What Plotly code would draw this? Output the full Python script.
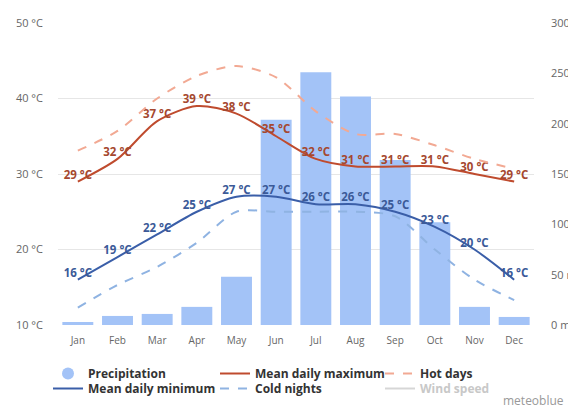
import plotly.graph_objects as go

months = ["Jan", "Feb", "Mar", "Apr", "May", "Jun", "Jul", "Aug", "Sep", "Oct", "Nov", "Dec"]
precipitation = [3, 9, 11, 18, 48, 204, 251, 227, 164, 102, 18, 8]
mean_max = [29, 32, 37, 39, 38, 35, 32, 31, 31, 31, 30, 29]
mean_min = [16, 19, 22, 25, 27, 27, 26, 26, 25, 23, 20, 16]
hot_days = [33.1, 35.7, 40.0, 43.0, 44.3, 42.8, 38.3, 35.3, 35.3, 33.8, 32.0, 30.7]
cold_nights = [12.3, 15.3, 17.7, 20.9, 25.0, 25.0, 25.0, 25.0, 24.4, 20.0, 16.0, 13.3]
left_ticks = [10, 20, 30, 40, 50]
right_ticks = [0, 50, 100, 150, 200, 250, 300]

max_labels = [f"{v} °C" for v in mean_max]
min_labels = [f"{v} °C" for v in mean_min]

label_font = dict(size=11.5, family="Open Sans", weight="bold")

fig = go.Figure()

# bars on primary axis (drawn below the overlaying temperature axis)
fig.add_trace(go.Bar(
    x=months, y=precipitation, yaxis="y", name="Precipitation",
    marker=dict(color="#a3c3f7", line=dict(width=0)), showlegend=False,
))
fig.add_trace(go.Scatter(
    x=[None], y=[None], yaxis="y2", mode="markers", name="Precipitation",
    marker=dict(symbol="circle", size=12, color="#a3c3f7"), legend="legend",
))
fig.add_trace(go.Scatter(
    x=months, y=mean_max, yaxis="y2", mode="lines+text", name="Mean daily maximum",
    line=dict(color="#bf4b2e", width=2, shape="spline", smoothing=0.8),
    text=max_labels, textposition="top center",
    textfont=dict(color="#a5482f", **label_font), legend="legend2",
))
fig.add_trace(go.Scatter(
    x=months, y=hot_days, yaxis="y2", mode="lines", name="Hot days",
    line=dict(color="#f2a993", width=2, dash="dash", shape="spline", smoothing=0.8),
    legend="legend3",
))
fig.add_trace(go.Scatter(
    x=months, y=mean_min, yaxis="y2", mode="lines+text", name="Mean daily minimum",
    line=dict(color="#3a5ea8", width=2, shape="spline", smoothing=0.8),
    text=min_labels, textposition="top center",
    textfont=dict(color="#3b5a98", **label_font), legend="legend4",
))
fig.add_trace(go.Scatter(
    x=months, y=cold_nights, yaxis="y2", mode="lines", name="Cold nights",
    line=dict(color="#8fb3e2", width=2, dash="dash", shape="spline", smoothing=0.8),
    legend="legend5",
))
fig.add_trace(go.Scatter(
    x=[None], y=[None], yaxis="y2", mode="lines",
    name="<span style='color:#c8c8c8'>Wind speed</span>",
    line=dict(color="#d6d6d6", width=2), legend="legend6",
))

PLOT_L, PLOT_W, PLOT_B, PLOT_H = 58, 476, 325, 302


def legend_at(text_x, row_y):
    # text_x: pixel where the legend text starts; row_y: pixel of row centre
    return dict(
        orientation="h", xanchor="left", yanchor="top",
        x=(text_x - 40 - PLOT_L) / PLOT_W,
        y=(PLOT_B - (row_y - 14)) / PLOT_H,
        font=dict(family="Open Sans", size=12, color="#333333", weight="bold"),
        itemwidth=30, tracegroupgap=0, bgcolor="rgba(0,0,0,0)",
    )


fig.update_layout(
    template="none",
    width=568, height=408,
    margin=dict(l=58, r=34, t=23, b=83, autoexpand=False),
    paper_bgcolor="white", plot_bgcolor="white",
    bargap=0.22,
    font=dict(family="Open Sans", color="#666666", size=10),
    xaxis=dict(
        categoryorder="array", categoryarray=months,
        showgrid=False, showline=False, ticks="", automargin=False,
        tickfont=dict(size=10, color="#666666"), ticklabelstandoff=8,
        range=[-0.5, 11.5],
    ),
    yaxis=dict(
        range=[0, 300], tickvals=right_ticks,
        ticktext=[f"{v} mm" for v in right_ticks],
        side="right", showgrid=False, zeroline=False, automargin=False,
        showline=False, ticks="", ticklabelstandoff=16,
        tickfont=dict(size=11, color="#666666"),
    ),
    yaxis2=dict(
        range=[10, 50], tickvals=left_ticks,
        ticktext=[f"{v} °C" for v in left_ticks],
        overlaying="y", side="left", automargin=False,
        showgrid=True, gridcolor="#e6e6e6", gridwidth=1,
        zeroline=False, showline=False, ticks="", ticklabelstandoff=14,
        tickfont=dict(size=11, color="#666666"),
    ),
    legend=legend_at(88, 373),
    legend2=legend_at(255, 373),
    legend3=legend_at(420, 373),
    legend4=legend_at(88, 388),
    legend5=legend_at(255, 388),
    legend6=legend_at(420, 388),
    showlegend=True,
    annotations=[dict(
        text="meteoblue", xref="paper", yref="paper",
        x=(566 - PLOT_L) / PLOT_W, y=(PLOT_B - 400) / PLOT_H,
        xanchor="right", yanchor="middle",
        showarrow=False, font=dict(size=12, color="#999999", family="Open Sans"),
    )],
)

fig.write_html(
    "out.html",
    config={"displayModeBar": False},
    post_script="document.body.style.margin='0';",
)
